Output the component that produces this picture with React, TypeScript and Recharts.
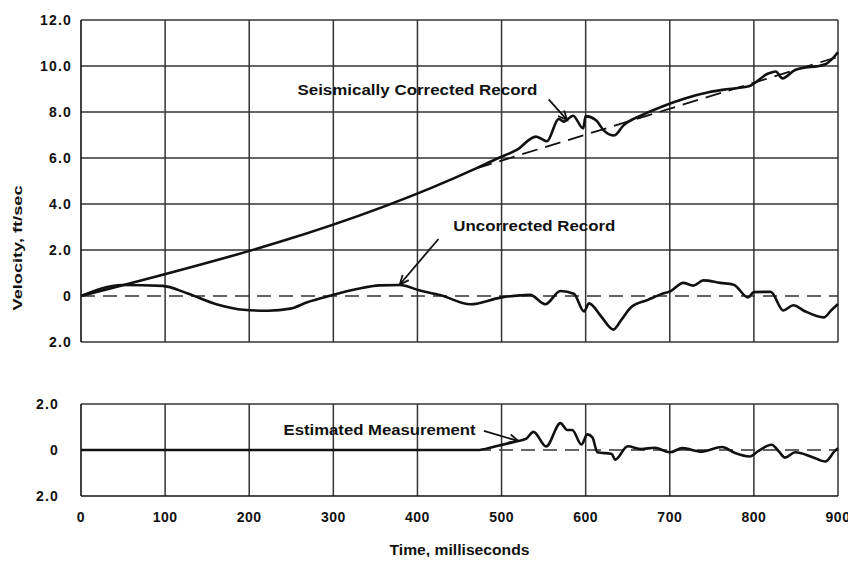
import React from 'react';
import { LineChart, Line, XAxis, YAxis, ReferenceLine, ReferenceDot } from 'recharts';

// ---- data (time in ms, velocity in ft/sec) ----
const xTicks = [0, 100, 200, 300, 400, 500, 600, 700, 800, 900];
const upperYTicks = [-2, 0, 2, 4, 6, 8, 10, 12];
const lowerYTicks = [-2, 0, 2];

const seismicT = [0, 471, 495, 518, 541, 554, 568, 574, 585, 597, 600, 612, 622, 634, 645, 668, 692, 716, 746, 770, 794, 817, 826, 834, 849, 885, 900];
const seismicV = [0, 5.57, 5.98, 6.35, 6.93, 6.73, 7.7, 7.58, 7.84, 7.29, 7.82, 7.65, 7.18, 6.98, 7.42, 7.88, 8.25, 8.57, 8.86, 9.0, 9.12, 9.67, 9.76, 9.46, 9.83, 10.08, 10.6];

const trendT = [470, 900];
const trendV = [5.55, 10.4];

const uncT = [0, 49, 97, 126, 162, 193, 222, 249, 269, 296, 328, 355, 379, 403, 427, 463, 499, 534, 552, 570, 586, 598, 604, 618, 633, 642, 654, 674, 689, 701, 716, 728, 740, 760, 776, 793, 800, 820, 835, 847, 860, 883, 892, 900];
const uncV = [0, 0.48, 0.44, 0.12, -0.37, -0.6, -0.64, -0.55, -0.27, 0.01, 0.3, 0.46, 0.48, 0.24, 0.04, -0.36, -0.07, 0.05, -0.36, 0.22, 0.1, -0.67, -0.32, -0.87, -1.46, -1.06, -0.49, -0.17, 0.07, 0.21, 0.57, 0.45, 0.68, 0.57, 0.49, -0.06, 0.17, 0.18, -0.63, -0.4, -0.65, -0.93, -0.62, -0.35];

const estT = [0, 471, 491, 518, 529, 538, 553, 570, 578, 584, 595, 602, 608, 614, 631, 635, 650, 666, 682, 700, 715, 738, 762, 777, 795, 805, 821, 829, 837, 849, 869, 885, 896, 900];
const estV = [0, 0, 0.14, 0.38, 0.48, 0.79, 0.15, 1.17, 0.87, 0.87, 0.24, 0.68, 0.55, -0.1, -0.17, -0.42, 0.16, 0.04, 0.1, -0.1, 0.08, -0.07, 0.13, -0.12, -0.28, -0.05, 0.23, -0.03, -0.33, -0.1, -0.3, -0.5, -0.05, 0.08];

const seismicData = seismicT.map((t, i) => ({ t, v: seismicV[i] }));
const trendData = trendT.map((t, i) => ({ t, v: trendV[i] }));
const uncData = uncT.map((t, i) => ({ t, v: uncV[i] }));
const estData = estT.map((t, i) => ({ t, v: estV[i] }));

const FONT = '"Liberation Sans", Arial, sans-serif';
const INK = '#111';
const GRID = '#333';

const fmtY = (v: number) => (v === 0 ? '0' : Math.abs(v).toFixed(1));

const Arrow = (p: any) => {
  const { x1, y1, x2, y2 } = p;
  const ang = Math.atan2(y2 - y1, x2 - x1);
  const L = 10;
  const a = 0.42;
  const ax = x2 - L * Math.cos(ang - a);
  const ay = y2 - L * Math.sin(ang - a);
  const bx = x2 - L * Math.cos(ang + a);
  const by = y2 - L * Math.sin(ang + a);
  return (
    <g>
      <line x1={x1} y1={y1} x2={x2} y2={y2} stroke={INK} strokeWidth={1.8} />
      <polyline points={`${ax},${ay} ${x2},${y2} ${bx},${by}`} fill="none" stroke={INK} strokeWidth={1.8} />
    </g>
  );
};

const makeText = (label: string, len: number) => (p: any) => (
  <text
    x={p.cx}
    y={p.cy}
    textAnchor="middle"
    dominantBaseline="central"
    fontFamily={FONT}
    fontWeight="bold"
    fontSize={14}
    fill={INK}
    textLength={len}
    lengthAdjust="spacingAndGlyphs"
  >
    {label}
  </text>
);

const tickStyle = { fontFamily: FONT, fontWeight: 'bold' as const, fill: INK };

const gridLinesV = () =>
  xTicks.filter((t) => t !== 0).map((t) => (
    <ReferenceLine key={'vx' + t} x={t} stroke={GRID} strokeWidth={1.5} />
  ));

export default function App() {
  return (
    <div style={{ position: 'relative', width: 848, height: 549, background: '#fff' }}>
      <div style={{ position: 'absolute', left: 0, top: 0 }}>
        <LineChart width={848} height={352} margin={{ top: 12, right: 18, bottom: 18, left: 13 }}>
          <XAxis type="number" dataKey="t" domain={[0, 900]} ticks={xTicks} hide />
          <YAxis
            type="number"
            domain={[-2, 12]}
            ticks={upperYTicks}
            width={60}
            tickFormatter={fmtY}
            tickLine={false}
            tickSize={5}
            tickMargin={4}
            axisLine={{ stroke: INK, strokeWidth: 1.6 }}
            tick={{ ...tickStyle, fontSize: 14, letterSpacing: 1.2 } as any}
            interval={0}
            label={{
              content: (lp: any) => {
                const vb = lp.viewBox || { x: 13, y: 12, width: 60, height: 322 };
                const x = vb.x - 3;
                const y = vb.y + 228;
                return (
                  <text
                    x={x}
                    y={y}
                    transform={`rotate(-90 ${x} ${y})`}
                    textAnchor="middle"
                    dominantBaseline="central"
                    fontFamily={FONT}
                    fontWeight="bold"
                    fontSize={12}
                    fill={INK}
                    textLength={125}
                    lengthAdjust="spacingAndGlyphs"
                  >
                    Velocity, ft/sec
                  </text>
                );
              },
            } as any}
          />
          {upperYTicks.filter((v) => v !== 0).map((v) => (
            <ReferenceLine key={'hy' + v} y={v} stroke={GRID} strokeWidth={1.5} />
          ))}
          {gridLinesV()}
          <ReferenceLine y={0} stroke="#333" strokeWidth={1.6} strokeDasharray="14 8" />
          <Line data={trendData} dataKey="v" type="linear" stroke={INK} strokeWidth={1.8} strokeDasharray="16 8" dot={false} activeDot={false} isAnimationActive={false} />
          <Line data={seismicData} dataKey="v" type="monotone" stroke={INK} strokeWidth={2.6} dot={false} activeDot={false} isAnimationActive={false} />
          <Line data={uncData} dataKey="v" type="monotone" stroke={INK} strokeWidth={2.6} dot={false} activeDot={false} isAnimationActive={false} />
          <ReferenceLine segment={[{ x: 556, y: 8.55 }, { x: 578, y: 7.65 }]} shape={Arrow} />
          <ReferenceLine segment={[{ x: 425, y: 2.48 }, { x: 379, y: 0.5 }]} shape={Arrow} />
          <ReferenceDot x={400} y={8.94} r={1} shape={makeText('Seismically Corrected Record', 240)} />
          <ReferenceDot x={539} y={3.06} r={1} shape={makeText('Uncorrected Record', 162)} />
        </LineChart>
      </div>
      <div style={{ position: 'absolute', left: 0, top: 384 }}>
        <LineChart width={848} height={171} margin={{ top: 12, right: 18, bottom: 0, left: 13 }}>
          <XAxis
            type="number"
            dataKey="t"
            domain={[0, 900]}
            ticks={xTicks}
            interval={0}
            height={67}
            tickLine={false}
            tickSize={6}
            tickMargin={10}
            axisLine={{ stroke: INK, strokeWidth: 1.6 }}
            tick={{ ...tickStyle, fontSize: 14, letterSpacing: 0.5 } as any}
            label={{
              content: (lp: any) => {
                const vb = lp.viewBox || { x: 73, y: 104, width: 757, height: 67 };
                return (
                  <text
                    x={vb.x + vb.width / 2}
                    y={vb.y + 59}
                    textAnchor="middle"
                    fontFamily={FONT}
                    fontWeight="bold"
                    fontSize={15}
                    fill={INK}
                    textLength={140}
                    lengthAdjust="spacingAndGlyphs"
                  >
                    Time, milliseconds
                  </text>
                );
              },
            } as any}
          />
          <YAxis
            type="number"
            domain={[-2, 2]}
            ticks={lowerYTicks}
            width={60}
            tickFormatter={fmtY}
            tickLine={false}
            tickSize={5}
            tickMargin={17}
            axisLine={{ stroke: INK, strokeWidth: 1.6 }}
            tick={{ ...tickStyle, fontSize: 14, letterSpacing: 1.2 } as any}
            interval={0}
          />
          <ReferenceLine y={2} stroke={GRID} strokeWidth={1.5} />
          {gridLinesV()}
          <ReferenceLine y={0} stroke="#333" strokeWidth={1.5} strokeDasharray="14 8" />
          <Line data={estData} dataKey="v" type="monotone" stroke={INK} strokeWidth={2.6} dot={false} activeDot={false} isAnimationActive={false} />
          <ReferenceLine segment={[{ x: 479, y: 0.83 }, { x: 520, y: 0.39 }]} shape={Arrow} />
          <ReferenceDot x={355} y={0.89} r={1} shape={makeText('Estimated Measurement', 192)} />
        </LineChart>
      </div>
    </div>
  );
}
